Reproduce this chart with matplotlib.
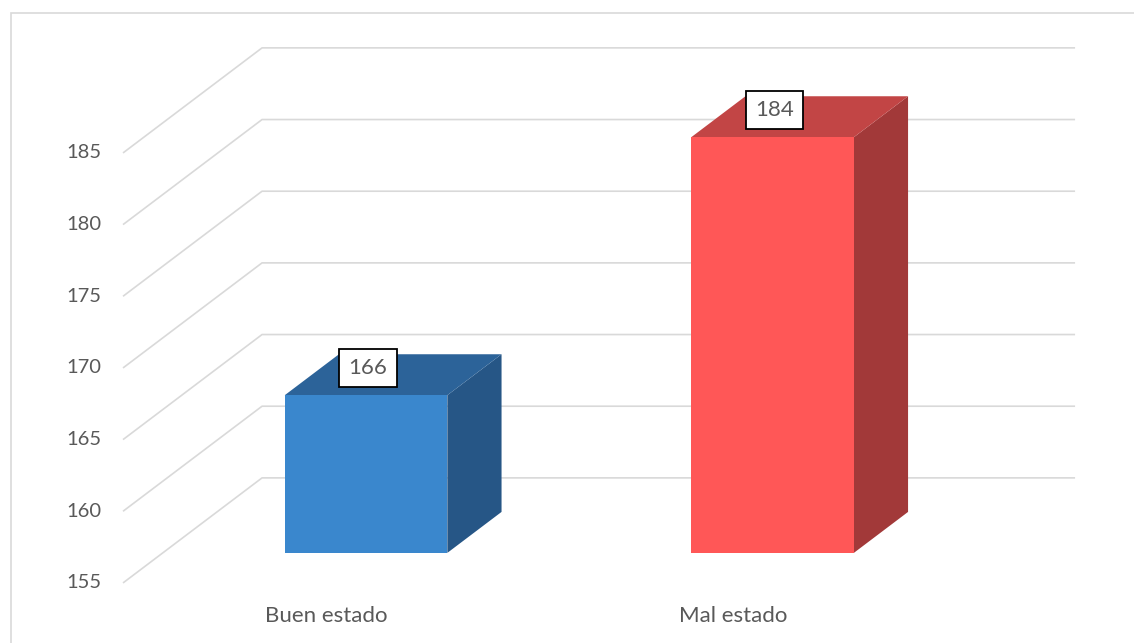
import matplotlib

matplotlib.use("Agg")
import matplotlib.pyplot as plt
from matplotlib.patches import Polygon, Rectangle

# data
categories = ["Buen estado", "Mal estado"]
values = [166, 184]
ticks = [155, 160, 165, 170, 175, 180, 185]

front_colors = ["#3A87CD", "#FF5757"]
top_colors = ["#2C6399", "#C24545"]
side_colors = ["#265686", "#A23939"]

GRID = "#D9D9D9"
TEXT = "#595959"
FONT = "Lato"

# oblique projection: full depth shifts (dx in category units, dy in value units)
DDX, DDY = 0.342, 7.33
BAR_W = 0.4
F0, F1 = 0.286, 0.676   # bar front / back depth fraction
BASE = ticks[0]


def proj(x, v, d):
    return (x + d * DDX, v + d * DDY)


fig = plt.figure(figsize=(11.34, 6.43), dpi=100)
fig.patch.set_facecolor("white")
ax = fig.add_axes([0, 0, 1, 1])
ax.set_xlim(-0.8026, 1.987)
ax.set_ylim(150.81, 195.67)
ax.axis("off")

# outer chart frame (cut off at right and bottom like the source)
fig.patches.append(Rectangle((11 / 1134, -0.05), 1.1, 1 - 13 / 643 + 0.05,
                             transform=fig.transFigure, fill=False,
                             edgecolor=GRID, linewidth=1.2))

x_left, x_right = -0.5, len(categories) - 0.5

# gridlines: side wall diagonals + back wall horizontals
for t in ticks:
    p0 = proj(x_left, t, 0)
    p1 = proj(x_left, t, 1)
    p2 = proj(x_right, t, 1)
    ax.plot([p0[0], p1[0], p2[0]], [p0[1], p1[1], p2[1]],
            color=GRID, linewidth=1.2, solid_capstyle="butt", zorder=1)
    ax.annotate(str(t), xy=(x_left, t), xytext=(-15.5, 0),
                textcoords="offset points", ha="right", va="center",
                fontsize=14.5, color=TEXT, fontfamily=FONT)

# 3D columns
for i, (cat, v) in enumerate(zip(categories, values)):
    xl, xr = i - BAR_W / 2, i + BAR_W / 2
    front = [proj(xl, BASE, F0), proj(xr, BASE, F0),
             proj(xr, v, F0), proj(xl, v, F0)]
    top = [proj(xl, v, F0), proj(xr, v, F0),
           proj(xr, v, F1), proj(xl, v, F1)]
    side = [proj(xr, BASE, F0), proj(xr, BASE, F1),
            proj(xr, v, F1), proj(xr, v, F0)]
    ax.add_patch(Polygon(side, closed=True, facecolor=side_colors[i],
                         edgecolor="none", zorder=3))
    ax.add_patch(Polygon(top, closed=True, facecolor=top_colors[i],
                         edgecolor="none", zorder=3))
    ax.add_patch(Polygon(front, closed=True, facecolor=front_colors[i],
                         edgecolor="none", zorder=4))

    # value label box
    ax.annotate(str(v), xy=proj(i, v, F0), xytext=(1.5, 19.5),
                textcoords="offset points", ha="center", va="center",
                fontsize=16, color=TEXT, fontfamily=FONT, zorder=6,
                bbox=dict(boxstyle="square,pad=0.42", facecolor="white",
                          edgecolor="black", linewidth=1.3))

    # category label
    ax.annotate(cat, xy=(i, BASE), xytext=(0, -23.5),
                textcoords="offset points", ha="center", va="center",
                fontsize=16, color=TEXT, fontfamily=FONT)

fig.savefig("out.png", dpi=100, facecolor="white")
plt.close(fig)
